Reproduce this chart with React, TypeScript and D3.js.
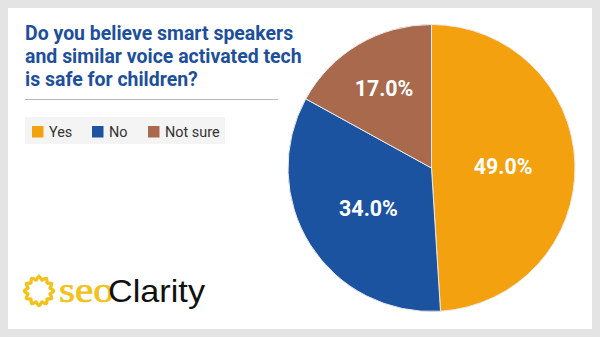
import React from "react";
import * as d3 from "d3";

const categories = ["Yes", "No", "Not sure"];
const values = [49.0, 34.0, 17.0];
const colors = ["#F3A10F", "#1B53A1", "#A8694C"];
const titleLines = [
  "Do you believe smart speakers",
  "and similar voice activated tech",
  "is safe for children?",
];

const W = 600;
const H = 337;
const cx = 431.5;
const cy = 168;
const R = 143.5;
const labelRadiusFrac = [0.5, 0.52, 0.65];

export default function App() {
  const pie = d3.pie<number>().sort(null).value((d) => d);
  const arcs = pie(values);
  const arcGen = d3.arc<d3.PieArcDatum<number>>().innerRadius(0).outerRadius(R);

  // sun logo path: wavy ring
  const sunPts: [number, number][] = [];
  const n = 48;
  for (let i = 0; i <= n; i++) {
    const a = (i / n) * Math.PI * 2;
    const r = 12.5 + (i % 4 === 0 ? 2.2 : i % 4 === 2 ? -1.2 : 0.5);
    sunPts.push([Math.sin(a) * r, -Math.cos(a) * r]);
  }
  const sunPath = d3.line().curve(d3.curveCatmullRomClosed)(sunPts) || "";

  const legendX = [32, 92, 148];

  return (
    <svg
      width={W}
      height={H}
      style={{ position: "fixed", left: 0, top: 0, display: "block" }}
    >
      <rect x={0} y={0} width={W} height={H} fill="#e4e4e4" />
      <rect x={8} y={8} width={584} height={321} fill="#ffffff" />

      {/* Title */}
      <g fontFamily="Roboto" fontWeight={700} fontSize={20.5} fill="#1D4F9A">
        {titleLines.map((t, i) => (
          <text key={i} transform={`translate(25,${40 + i * 23}) scale(0.95,1)`}>
            {t}
          </text>
        ))}
      </g>
      <line x1={25} x2={278} y1={99.5} y2={99.5} stroke="#b8b8b8" strokeWidth={1} />

      {/* Legend */}
      <rect x={25} y={117} width={200} height={27} fill="#f4f4f4" />
      {categories.map((c, i) => (
        <g key={c}>
          <rect x={legendX[i]} y={126} width={11.5} height={11.5} fill={colors[i]} />
          <text
            transform={`translate(${legendX[i] + 17},137) scale(0.93,1)`}
            fontFamily="Roboto"
            fontSize={15.5}
            fill="#333"
          >
            {c}
          </text>
        </g>
      ))}

      {/* Pie */}
      <g transform={`translate(${cx},${cy})`}>
        {arcs.map((a, i) => (
          <path
            key={i}
            d={arcGen(a) || ""}
            fill={colors[i]}
            stroke="#e9e9e9"
            strokeWidth={1}
          />
        ))}
        {arcs.map((a, i) => {
          const lr = R * labelRadiusFrac[i];
          const la = d3.arc<d3.PieArcDatum<number>>().innerRadius(lr).outerRadius(lr);
          const [x, y] = la.centroid(a);
          return (
            <text
              key={"l" + i}
              transform={`translate(${x},${y + 8}) scale(0.95,1)`}
              textAnchor="middle"
              fontFamily="Roboto"
              fontWeight={700}
              fontSize={22.5}
              fill="#ffffff"
            >
              {values[i].toFixed(1) + "%"}
            </text>
          );
        })}
      </g>

      {/* Logo */}
      <g transform="translate(39,291)">
        <path d={sunPath} fill="none" stroke="#F2C21B" strokeWidth={3.2} />
      </g>
      <text
        x={59}
        y={302}
        fontFamily="Liberation Serif"
        fontSize={36}
        fill="#F2C21B"
        stroke="#F2C21B"
        strokeWidth={0.7}
        textLength={55}
        lengthAdjust="spacingAndGlyphs"
      >
        seo
      </text>
      <text
        x={108}
        y={302}
        fontFamily="Liberation Sans"
        fontSize={32}
        fill="#111"
        textLength={97}
        lengthAdjust="spacingAndGlyphs"
      >
        Clarity
      </text>
    </svg>
  );
}
